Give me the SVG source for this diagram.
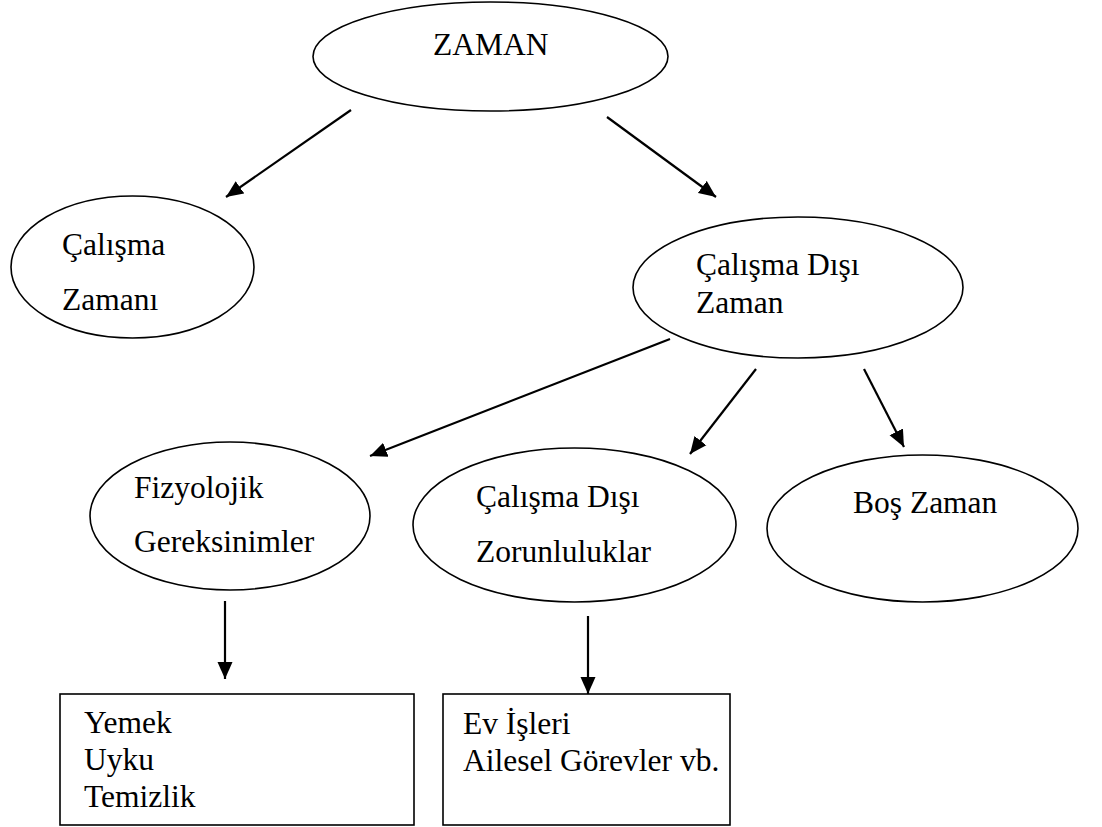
<svg xmlns="http://www.w3.org/2000/svg" width="1102" height="827" viewBox="0 0 1102 827">
<defs>
<style>
.n{fill:#fff;stroke:#000;stroke-width:1.6}
.t{font-family:"Liberation Serif","Times New Roman",serif;font-size:31.5px;fill:#000}
.c{stroke:#000;stroke-width:2.2;fill:none;marker-end:url(#ah)}
</style>
<marker id="ah" markerUnits="userSpaceOnUse" markerWidth="18" markerHeight="16" refX="17" refY="7.5" orient="auto" viewBox="0 0 18 15">
<path d="M0,0 L17,7.5 L0,15 z" fill="#000"/>
</marker>
</defs>
<rect width="1102" height="827" fill="#fff"/>
<g id="connectors">
<line class="c" x1="351" y1="110" x2="226" y2="197"/>
<line class="c" x1="607" y1="117" x2="716" y2="197"/>
<line class="c" x1="670" y1="339" x2="370" y2="456"/>
<line class="c" x1="756" y1="369" x2="690" y2="454"/>
<line class="c" x1="864" y1="369" x2="904" y2="447"/>
<line class="c" x1="225" y1="601" x2="225" y2="679"/>
<line class="c" x1="588" y1="616" x2="588" y2="694"/>
</g>
<g id="zaman">
<ellipse class="n" cx="490.5" cy="56.5" rx="177.5" ry="54.5"/>
<text class="t" x="433" y="55">ZAMAN</text>
</g>
<g id="calisma-zamani">
<ellipse class="n" cx="132.5" cy="267" rx="121.5" ry="71"/>
<text class="t" x="62" y="255">Çalışma</text>
<text class="t" x="62" y="310">Zamanı</text>
</g>
<g id="calisma-disi-zaman">
<ellipse class="n" cx="798" cy="287.5" rx="165" ry="70.5"/>
<text class="t" x="696" y="275">Çalışma Dışı</text>
<text class="t" x="696" y="313">Zaman</text>
</g>
<g id="fizyolojik">
<ellipse class="n" cx="230" cy="516" rx="140" ry="74"/>
<text class="t" x="134" y="498">Fizyolojik</text>
<text class="t" x="134" y="552">Gereksinimler</text>
</g>
<g id="zorunluluklar">
<ellipse class="n" cx="574.5" cy="525" rx="161.5" ry="77"/>
<text class="t" x="476" y="507">Çalışma Dışı</text>
<text class="t" x="476" y="562">Zorunluluklar</text>
</g>
<g id="bos-zaman">
<ellipse class="n" cx="922.5" cy="528.5" rx="155.5" ry="73.5"/>
<text class="t" x="853" y="513">Boş Zaman</text>
</g>
<g id="box-fizyolojik">
<rect class="n" x="60" y="694" width="354" height="131"/>
<text class="t" x="84" y="733">Yemek</text>
<text class="t" x="84" y="770">Uyku</text>
<text class="t" x="84" y="807">Temizlik</text>
</g>
<g id="box-zorunluluklar">
<rect class="n" x="443" y="694" width="287" height="131"/>
<text class="t" x="463" y="734">Ev İşleri</text>
<text class="t" x="463" y="771">Ailesel Görevler vb.</text>
</g>
</svg>
